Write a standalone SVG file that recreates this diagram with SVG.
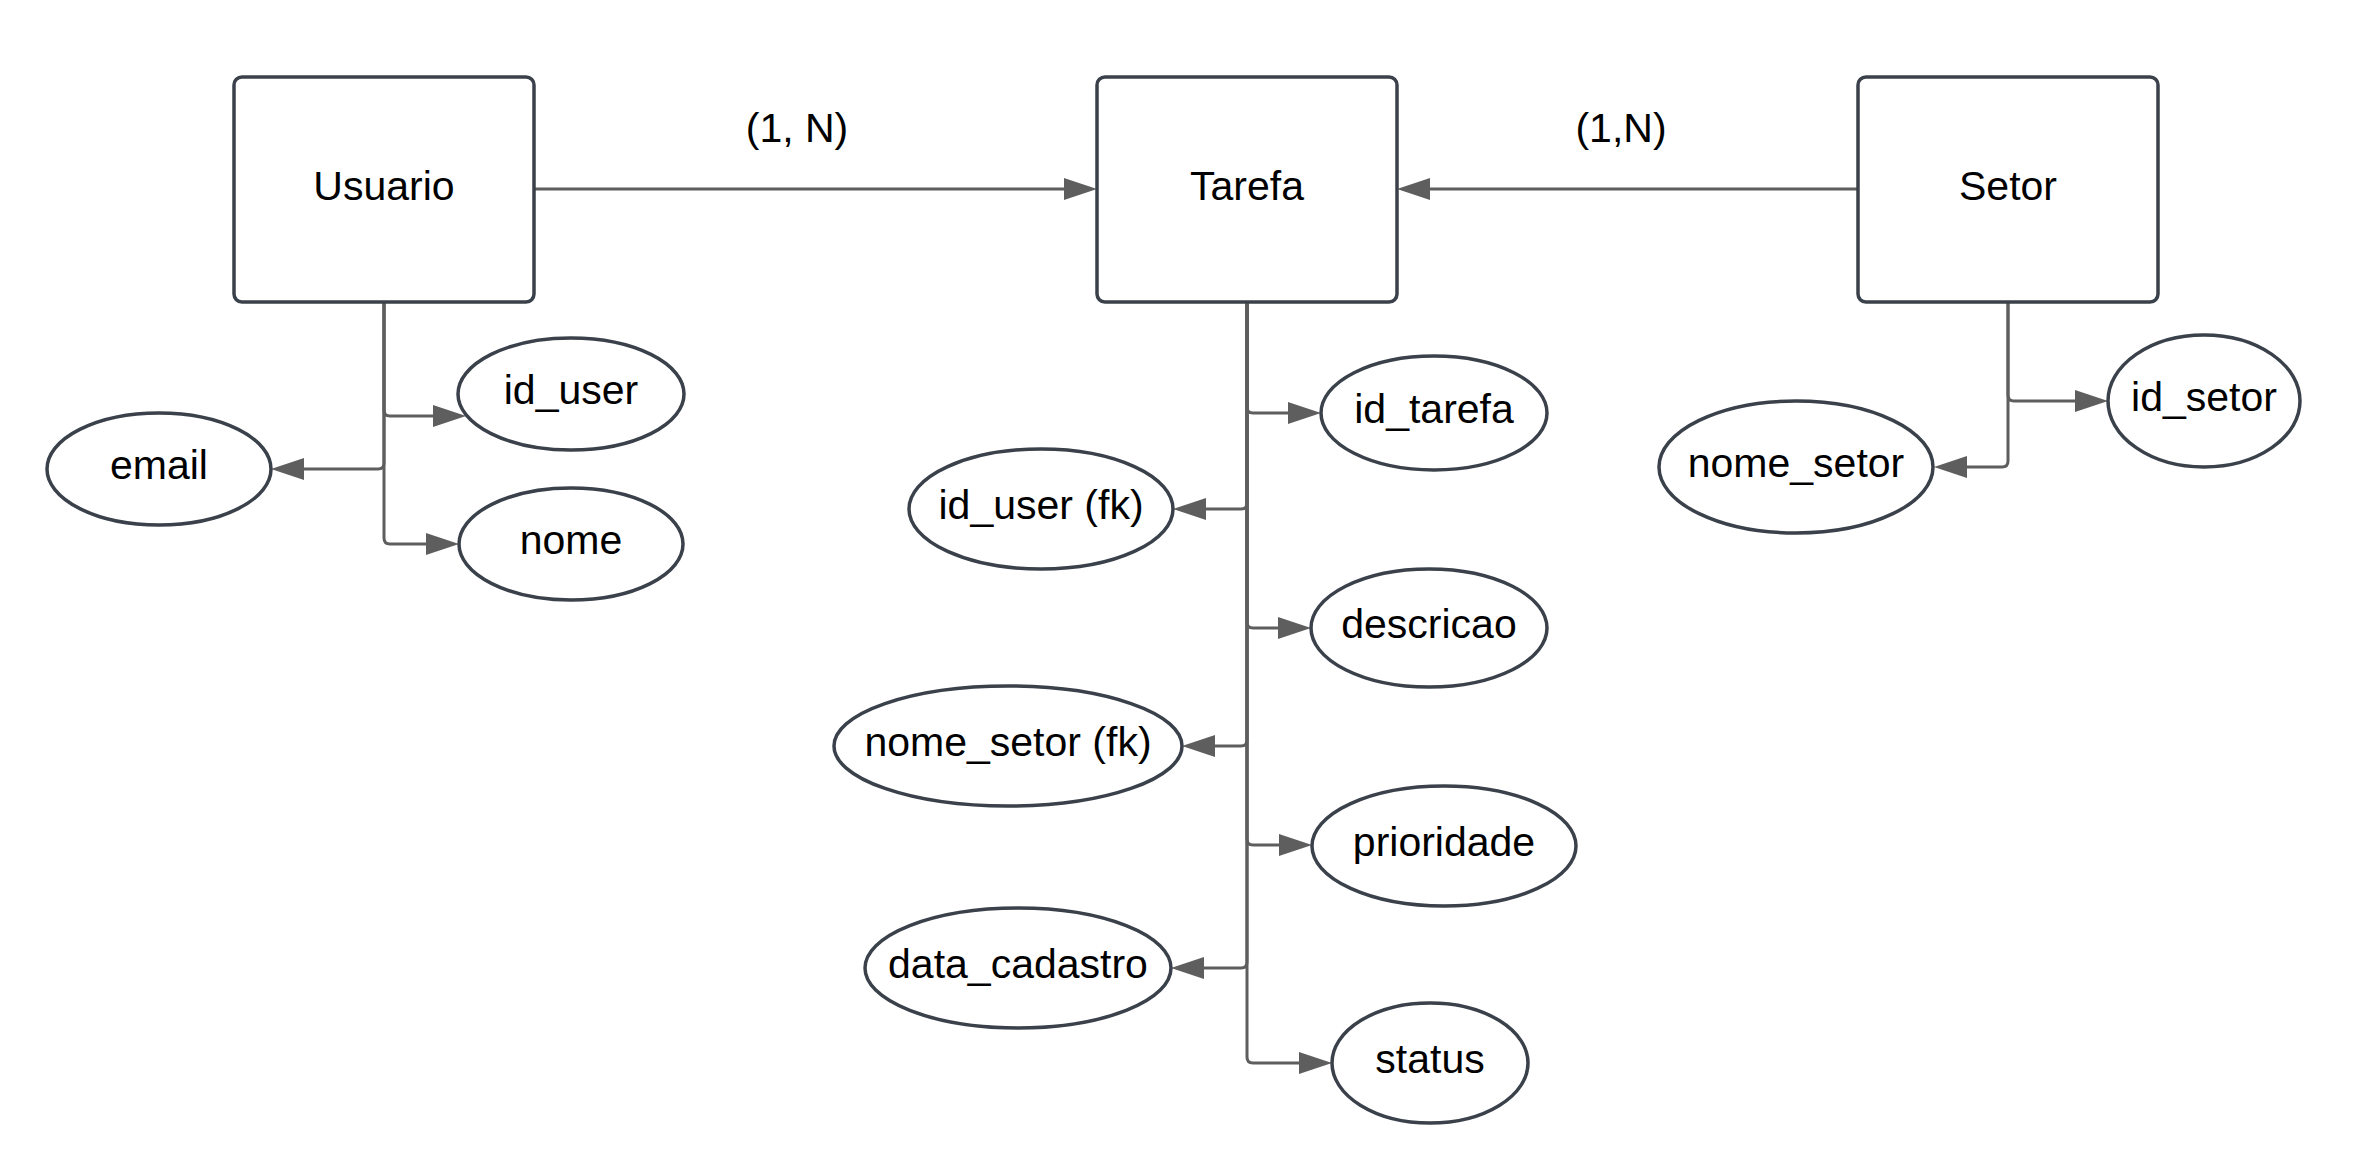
<svg xmlns="http://www.w3.org/2000/svg" width="2353" height="1163" viewBox="0 0 2353 1163">
<style>
.box{fill:#ffffff;stroke:#3a414a;stroke-width:3.5}
.attr{fill:#ffffff;stroke:#3a414a;stroke-width:3.5}
.t{font-family:"Liberation Sans",Arial,sans-serif;font-size:41px;fill:#000000;text-anchor:middle}
.c{fill:none;stroke:#5e5e5e;stroke-width:3;marker-end:url(#ah)}
</style>
<defs>
<marker id="ah" markerUnits="userSpaceOnUse" markerWidth="34" markerHeight="24" refX="0" refY="11" orient="auto">
<path d="M0,0 L33,11 L0,22 z" fill="#5e5e5e"/>
</marker>
</defs>
<rect width="2353" height="1163" fill="#ffffff"/>
<g id="connectors">
<path class="c" d="M534,189 H1064"/>
<path class="c" d="M1858,189 H1430"/>
<path class="c" d="M384,302 V410 Q384,416 390,416 H433"/>
<path class="c" d="M384,302 V463 Q384,469 378,469 H304"/>
<path class="c" d="M384,302 V538 Q384,544 390,544 H426"/>
<path class="c" d="M1247,302 V407 Q1247,413 1253,413 H1288"/>
<path class="c" d="M1247,302 V503 Q1247,509 1241,509 H1206"/>
<path class="c" d="M1247,302 V622 Q1247,628 1253,628 H1278"/>
<path class="c" d="M1247,302 V740 Q1247,746 1241,746 H1215"/>
<path class="c" d="M1247,302 V839 Q1247,845 1253,845 H1279"/>
<path class="c" d="M1247,302 V962 Q1247,968 1241,968 H1204"/>
<path class="c" d="M1247,302 V1057 Q1247,1063 1253,1063 H1299"/>
<path class="c" d="M2008,302 V395 Q2008,401 2014,401 H2075"/>
<path class="c" d="M2008,302 V461 Q2008,467 2002,467 H1967"/>
<text class="t" x="797" y="142">(1, N)</text>
<text class="t" x="1621" y="142">(1,N)</text>
</g>
<g id="usuario">
<rect class="box" x="234" y="77" width="300" height="225" rx="8"/>
<text class="t" x="384" y="200">Usuario</text>
</g>
<g id="tarefa">
<rect class="box" x="1097" y="77" width="300" height="225" rx="8"/>
<text class="t" x="1247" y="200">Tarefa</text>
</g>
<g id="setor">
<rect class="box" x="1858" y="77" width="300" height="225" rx="8"/>
<text class="t" x="2008" y="200">Setor</text>
</g>
<g id="id_user">
<ellipse class="attr" cx="571" cy="394" rx="113" ry="56"/>
<text class="t" x="571" y="404">id_user</text>
</g>
<g id="email">
<ellipse class="attr" cx="159" cy="469" rx="112" ry="56"/>
<text class="t" x="159" y="479">email</text>
</g>
<g id="nome">
<ellipse class="attr" cx="571" cy="544" rx="112" ry="56"/>
<text class="t" x="571" y="554">nome</text>
</g>
<g id="id_tarefa">
<ellipse class="attr" cx="1434" cy="413" rx="113" ry="57"/>
<text class="t" x="1434" y="423">id_tarefa</text>
</g>
<g id="id_user_fk">
<ellipse class="attr" cx="1041" cy="509" rx="132" ry="60"/>
<text class="t" x="1041" y="519">id_user (fk)</text>
</g>
<g id="descricao">
<ellipse class="attr" cx="1429" cy="628" rx="118" ry="59"/>
<text class="t" x="1429" y="638">descricao</text>
</g>
<g id="nome_setor_fk">
<ellipse class="attr" cx="1008" cy="746" rx="174" ry="60"/>
<text class="t" x="1008" y="756">nome_setor (fk)</text>
</g>
<g id="prioridade">
<ellipse class="attr" cx="1444" cy="846" rx="132" ry="60"/>
<text class="t" x="1444" y="856">prioridade</text>
</g>
<g id="data_cadastro">
<ellipse class="attr" cx="1018" cy="968" rx="153" ry="60"/>
<text class="t" x="1018" y="978">data_cadastro</text>
</g>
<g id="status">
<ellipse class="attr" cx="1430" cy="1063" rx="98" ry="60"/>
<text class="t" x="1430" y="1073">status</text>
</g>
<g id="id_setor">
<ellipse class="attr" cx="2204" cy="401" rx="96" ry="66"/>
<text class="t" x="2204" y="411">id_setor</text>
</g>
<g id="nome_setor">
<ellipse class="attr" cx="1796" cy="467" rx="137" ry="66"/>
<text class="t" x="1796" y="477">nome_setor</text>
</g>
</svg>
